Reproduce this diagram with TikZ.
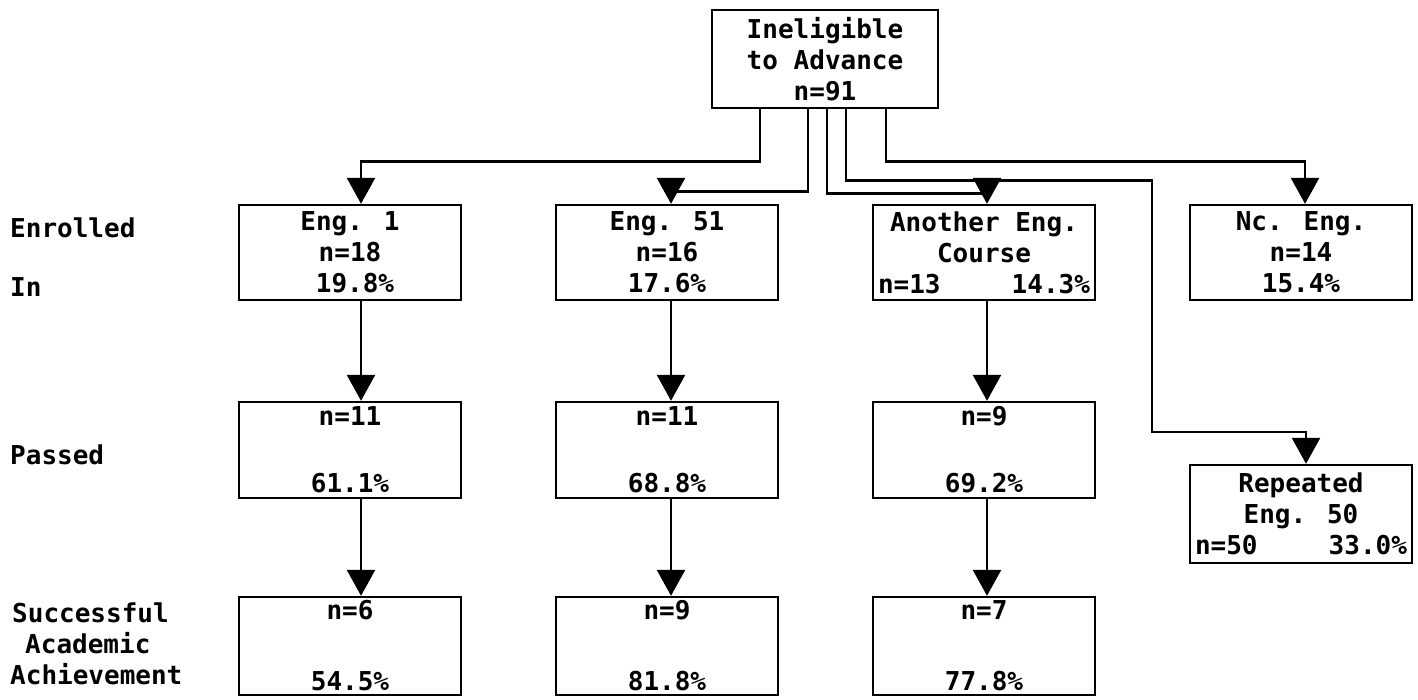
\documentclass[tikz,border=0pt]{standalone}
\usepackage{fontspec}
\setmainfont{DejaVu Sans Mono}
\usetikzlibrary{arrows.meta}
\begin{document}
\begin{tikzpicture}[x=1pt,y=-1pt,
  txt/.style={font=\bfseries\fontsize{26}{31}\selectfont},
  box/.style={txt, draw, line width=2.4pt, minimum width=222pt, inner sep=0pt, align=center},
  lbl/.style={txt, anchor=west, inner sep=0pt, align=left},
  arr/.style={line width=2.6pt, -{Triangle[width=28pt,length=26pt]}}]
\useasboundingbox (0,0) rectangle (1418,699);
% top
\node[box, minimum width=226pt, minimum height=98pt] (top) at (825,59) {\rule{0pt}{4pt}Ineligible\\to Advance\\n=91};
% row 1
\node[box, minimum height=95pt] (e1) at (350,252.5) {\rule{0pt}{8pt}Eng. 1\\n=18\\\hspace*{10pt}19.8\%};
\node[box, minimum height=95pt] (e51) at (667,252.5) {\rule{0pt}{8pt}Eng. 51\\n=16\\17.6\%};
\node[box, minimum height=95pt] (an) at (984,252.5) {\rule{0pt}{8pt}Another Eng.\\Course\\\makebox[212pt]{n=13\hfill 14.3\%}};
\node[box, minimum height=95pt] (ne) at (1301,252.5) {\rule{0pt}{8pt}Nc. Eng.\\n=14\\15.4\%};
% row 2
\node[box, minimum height=96pt] (p1) at (350,450) {n=11\\[36pt]61.1\%};
\node[box, minimum height=96pt] (p51) at (667,450) {n=11\\[36pt]68.8\%};
\node[box, minimum height=96pt] (pan) at (984,450) {n=9\\[36pt]69.2\%};
\node[box, minimum height=98pt] (rep) at (1301,514) {Repeated\\Eng. 50\\\makebox[212pt]{n=50\hfill 33.0\%}};
% row 3
\node[box, minimum height=98pt] (s1) at (350,646) {n=6\\[40pt]54.5\%};
\node[box, minimum height=98pt] (s51) at (667,646) {n=9\\[40pt]81.8\%};
\node[box, minimum height=98pt] (san) at (984,646) {n=7\\[40pt]77.8\%};
% row labels
\node[lbl] (l1) at (10,228) {Enrolled};
\node[lbl] (l2) at (10,287) {In};
\node[lbl] (l3) at (10,455) {Passed};
\node[lbl] (l4) at (10,644) {\hspace*{2pt}Successful\\\hspace*{15pt}Academic\\Achievement};
% connectors from top
\coordinate (bend) at (1152,432);
\draw[arr] ([xshift=-65pt]top.south) -- ++(0,52) -| ([xshift=11pt]e1.north);
\draw[arr] ([xshift=-17pt]top.south) -- ++(0,82) -| ([xshift=4pt]e51.north);
\draw[arr] ([xshift=2pt]top.south) -- ++(0,84) -| ([xshift=3pt]an.north);
\draw[arr] ([xshift=21pt]top.south) -- ++(0,71) -| (bend) -| ([xshift=5pt]rep.north);
\draw[arr] ([xshift=61pt]top.south) -- ++(0,52) -| ([xshift=4pt]ne.north);
% vertical
\draw[arr] ([xshift=11pt]e1.south) -- ([xshift=11pt]p1.north);
\draw[arr] ([xshift=11pt]p1.south) -- ([xshift=11pt]s1.north);
\draw[arr] ([xshift=4pt]e51.south) -- ([xshift=4pt]p51.north);
\draw[arr] ([xshift=4pt]p51.south) -- ([xshift=4pt]s51.north);
\draw[arr] ([xshift=3pt]an.south) -- ([xshift=3pt]pan.north);
\draw[arr] ([xshift=3pt]pan.south) -- ([xshift=3pt]san.north);
\end{tikzpicture}
\end{document}
